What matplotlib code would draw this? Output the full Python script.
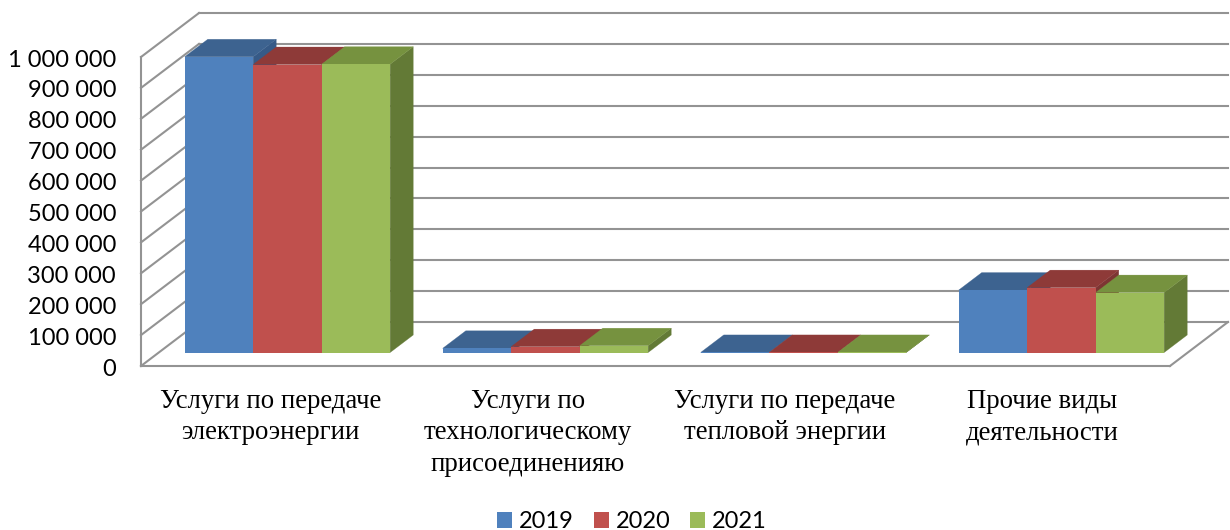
import matplotlib
matplotlib.use('Agg')
import matplotlib.pyplot as plt
from matplotlib.patches import Patch, Polygon
from matplotlib.transforms import ScaledTranslation

categories = ['Услуги по передаче\nэлектроэнергии',
              'Услуги по\nтехнологическому\nприсоединенияю',
              'Услуги по передаче\nтепловой энергии',
              'Прочие виды\nдеятельности']
years = ['2019', '2020', '2021']
values_2019 = [957000, 13500, 200, 202000]
values_2020 = [932000, 19000, 200, 210000]
values_2021 = [933000, 22000, 200, 194000]
ticks = [0, 100000, 200000, 300000, 400000, 500000, 600000, 700000, 800000, 900000, 1000000]

front_colors = ['#4F81BD', '#C0504D', '#9BBB59']
top_colors = ['#3D6390', '#8E3A38', '#76923F']
side_colors = ['#365A87', '#7D3533', '#637A36']
wall_color = '#939393'

W, H = 1230, 530
fig = plt.figure(figsize=(W / 100, H / 100), dpi=100)
ax = fig.add_axes([141 / W, (H - 366) / H, (1170 - 141) / W, (366 - 57) / H])
ax.set_xlim(0, 4)
ax.set_ylim(0, 1000000)

# obliqua: quanto si sposta un punto andando in profondita (d da 0 a 1)
DX = 58 / (1029 / 4)
DY = 44 / 309 * 1000000


def proj(x, y, d):
    return x + d * DX, y + d * DY


def wall_line(p0, p1):
    a, b = proj(*p0), proj(*p1)
    ax.plot([a[0], b[0]], [a[1], b[1]], color=wall_color, lw=1.5, clip_on=False,
            solid_capstyle='projecting', zorder=1)


for t in ticks:
    wall_line((0, t, 0), (0, t, 1))
    wall_line((0, t, 1), (4, t, 1))
wall_line((0, 0, 0), (0, 1000000, 0))
wall_line((0, 0, 0), (4, 0, 0))
wall_line((4, 0, 0), (4, 0, 1))

# barre: davanti d0, dietro d1
bar_w = 68.5 / (1029 / 4)
bar_step = 258 / (1029 / 4)
d0 = 13.5 / 44
d1 = d0 + 17.5 / 44
series = [values_2019, values_2020, values_2021]
z = 2
for i in range(len(categories)):
    for j, vals in enumerate(series):
        left = 0.5 + i * bar_step + (j - 1.5) * bar_w
        right = left + bar_w
        v = vals[i]
        top = [proj(left, v, d0), proj(right, v, d0), proj(right, v, d1), proj(left, v, d1)]
        side = [proj(right, 0, d0), proj(right, v, d0), proj(right, v, d1), proj(right, 0, d1)]
        ax.add_patch(Polygon(side, closed=True, fc=side_colors[j], ec=side_colors[j], lw=0.2,
                             clip_on=False, zorder=z))
        ax.add_patch(Polygon(top, closed=True, fc=top_colors[j], ec=top_colors[j], lw=0.2,
                             clip_on=False, zorder=z + 0.1))
        fx, fy = proj(left, 0, d0)
        ax.bar(fx, v, bar_w, bottom=fy, align='edge', color=front_colors[j], lw=0,
               clip_on=False, zorder=z + 0.2)
        z += 1

for s in ax.spines.values():
    s.set_visible(False)
ax.patch.set_visible(False)

ax.set_yticks(ticks)
ax.set_yticklabels([f'{t:,}'.replace(',', ' ') for t in ticks], family='Lato', fontsize=17)
ax.set_xticks([i + 0.5 for i in range(len(categories))])
ax.set_xticklabels(categories, family='Liberation Serif', fontsize=19.3, linespacing=1.34)
ax.tick_params(axis='y', length=0, pad=18)
ax.tick_params(axis='x', length=0, pad=16.5)

# etichette un po' piu in basso / a destra come nell'originale
for lab in ax.get_yticklabels():
    lab.set_transform(lab.get_transform() + ScaledTranslation(0, -1 / 100, fig.dpi_scale_trans))
for lab in ax.get_xticklabels():
    lab.set_transform(lab.get_transform() + ScaledTranslation(1 / 100, 0, fig.dpi_scale_trans))

handles = [Patch(color=c, lw=0) for c in front_colors]
fig.legend(handles, years, ncol=3, frameon=False, loc='center', bbox_to_anchor=(632 / W, (H - 521.5) / H),
           prop={'family': 'Lato', 'size': 17}, handlelength=0.64, handleheight=0.64,
           handletextpad=0.3, columnspacing=0.82, borderpad=0, borderaxespad=0)

plt.savefig('out.png', dpi=100)
